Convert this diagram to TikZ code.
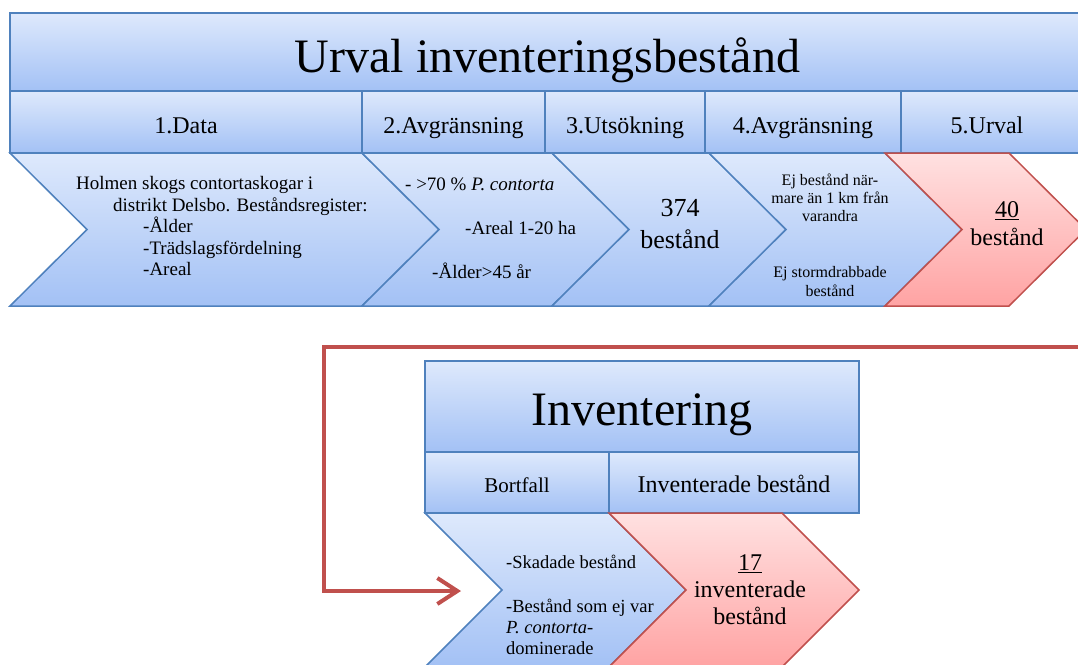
\documentclass[tikz,border=0pt]{standalone}
\usepackage{fontspec}
\setmainfont{Liberation Serif}
\usetikzlibrary{arrows.meta,calc}
\definecolor{bline}{HTML}{4F81BD}
\definecolor{btop}{HTML}{DEE9FC}
\definecolor{bbot}{HTML}{A3C1F5}
\definecolor{rline}{HTML}{C0504D}
\definecolor{rtop}{HTML}{FFE1E1}
\definecolor{rbot}{HTML}{FFA3A3}
\newcommand{\fsz}[2]{\fontsize{#1}{#2}\selectfont}
\begin{document}
\begin{tikzpicture}[x=1pt,y=-1pt,
  bluebox/.style={draw=bline,line width=1.5pt,top color=btop,bottom color=bbot},
  redbox/.style={draw=rline,line width=1.5pt,top color=rtop,bottom color=rbot},
  cell/.style={bluebox,rectangle,minimum height=62pt,inner sep=0pt,font=\fsz{24}{28},text height=24pt,text depth=2pt},
  titlebox/.style={bluebox,rectangle,inner sep=0pt,font=\fsz{48}{56}},
  conn/.style={draw=rline,line width=4pt,-{Straight Barb[length=20pt,width=26pt]}},
  txt/.style={inner sep=0pt}]
\useasboundingbox (0,0) rectangle (1078,664);

% ---------- top block ----------
\node[titlebox,minimum width=1075pt,minimum height=78pt,text height=42pt,text depth=2pt] (title) at (547.5,52) {Urval inventeringsbestånd};
\node[cell,minimum width=352pt] (h1) at (186,122) {1.Data};
\node[cell,minimum width=183pt] (h2) at (453.5,122) {2.Avgränsning};
\node[cell,minimum width=160pt] (h3) at (625,122) {3.Utsökning};
\node[cell,minimum width=196pt] (h4) at (803,122) {4.Avgränsning};
\node[cell,minimum width=184pt] (h5) at (993,122) {\hspace*{-12pt}5.Urval};

\path[bluebox] (10,153) -- (362,153) -- (439,229.5) -- (362,306) -- (10,306) -- (87,229.5) -- cycle;
\path[bluebox] (362,153) -- (552,153) -- (629,229.5) -- (552,306) -- (362,306) -- (439,229.5) -- cycle;
\path[bluebox] (552,153) -- (709,153) -- (786,229.5) -- (709,306) -- (552,306) -- (629,229.5) -- cycle;
\path[bluebox] (709,153) -- (885,153) -- (962,229.5) -- (885,306) -- (709,306) -- (786,229.5) -- cycle;
\path[redbox] (885,153) -- (1009,153) -- (1086,229.5) -- (1009,306) -- (885,306) -- (962,229.5) -- cycle;

\node[txt,anchor=west,align=left,font=\fsz{19}{21.5}] (t1) at (76,226)
  {Holmen skogs contortaskogar i\\\hspace*{37pt}distrikt Delsbo. Beståndsregister:\\\hspace*{67pt}-Ålder\\\hspace*{67pt}-Trädslagsfördelning\\\hspace*{67pt}-Areal};
\node[txt,anchor=west,align=left,font=\fsz{19}{44}] (t2) at (405,228)
  {- >70 \% \textit{P. contorta}\\\hspace*{60pt}-Areal 1-20 ha\\\hspace*{27pt}-Ålder>45 år};
\node[txt,align=center,font=\fsz{26}{32}] (t3) at (680,224) {374\\bestånd};
\node[txt,align=center,font=\fsz{16}{18}] (t4a) at (830,198) {Ej bestånd när-\\mare än 1 km från\\varandra};
\node[txt,align=center,font=\fsz{16}{19}] (t4b) at (830,282) {Ej stormdrabbade\\bestånd};
\node[txt,align=center,font=\fsz{24}{28}] (t5) at (1007,224) {\underline{40}\\bestånd};

% ---------- bottom block ----------
\node[titlebox,minimum width=434pt,minimum height=91pt,text height=39pt,text depth=2pt] (ititle) at (642,406.5) {Inventering};
\node[cell,minimum width=184pt,minimum height=61pt,font=\fsz{21}{25},text height=22pt,text depth=2pt] (hb1) at (517,482.5) {Bortfall};
\node[cell,minimum width=250pt,minimum height=61pt,text height=22pt,text depth=2pt] (hb2) at (734,482.5) {Inventerade bestånd};

\path[bluebox] (425,513) -- (609,513) -- (686,590) -- (609,667) -- (425,667) -- (502,590) -- cycle;
\path[redbox] (609,513) -- (782,513) -- (859,590) -- (782,667) -- (609,667) -- (686,590) -- cycle;

\node[txt,anchor=west,font=\fsz{18.5}{21}] (b1) at (506,562) {-Skadade bestånd};
\node[txt,anchor=west,align=left,font=\fsz{18.5}{21}] (b2) at (506,627) {-Bestånd som ej var\\\textit{P. contorta}-\\dominerade};
\node[txt,align=center,font=\fsz{24}{27}] (r2) at (750,590) {\underline{17}\\inventerade\\bestånd};

% ---------- connector ----------
\coordinate (cs) at (1086,347);
\coordinate (cc) at (324,591);
\coordinate (ce) at (461,591);
\draw[conn] (cs) -| (cc) -- (ce);
\end{tikzpicture}
\end{document}
